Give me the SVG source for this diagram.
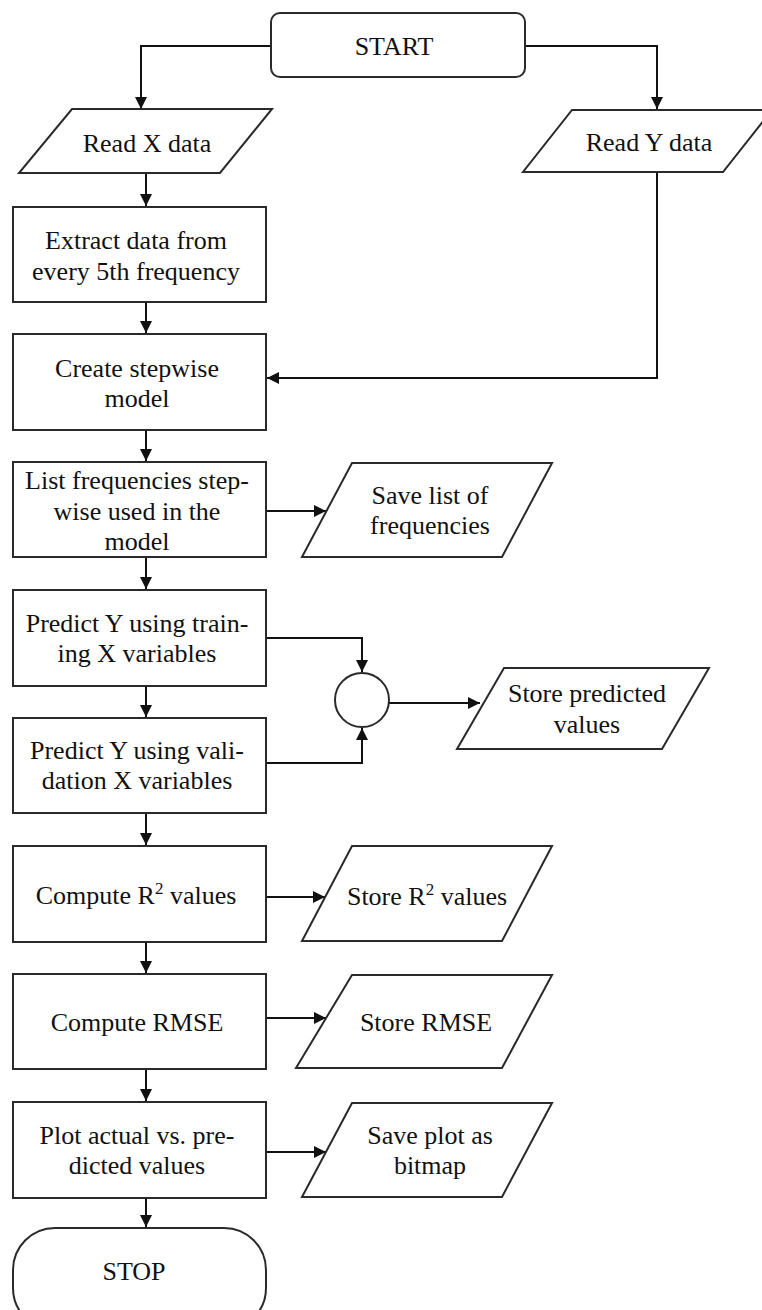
<svg xmlns="http://www.w3.org/2000/svg" width="762" height="1310" viewBox="0 0 762 1310">
<style>
.s{fill:#fff;stroke:#2a2a2a;stroke-width:2}
.c{fill:none;stroke:#111;stroke-width:2}
text{font-family:'Liberation Serif','DejaVu Serif',serif;font-size:26px;fill:#111;text-anchor:middle}
</style>
<defs>
<marker id="ah" viewBox="0 0 12 12" refX="12" refY="6" markerWidth="12" markerHeight="12" markerUnits="userSpaceOnUse" orient="auto">
<path d="M0,0 L12,6 L0,12 z" fill="#111"/>
</marker>
</defs>
<rect width="762" height="1310" fill="#fff"/>
<g id="connectors">
<path class="c" d="M271,46 H141 V109" marker-end="url(#ah)"/>
<path class="c" d="M525,46 H657 V109" marker-end="url(#ah)"/>
<path class="c" d="M146,173 V206" marker-end="url(#ah)"/>
<path class="c" d="M146,302 V333" marker-end="url(#ah)"/>
<path class="c" d="M146,430 V461" marker-end="url(#ah)"/>
<path class="c" d="M146,557 V589" marker-end="url(#ah)"/>
<path class="c" d="M146,686 V717" marker-end="url(#ah)"/>
<path class="c" d="M146,813 V845" marker-end="url(#ah)"/>
<path class="c" d="M146,942 V973" marker-end="url(#ah)"/>
<path class="c" d="M146,1069 V1101" marker-end="url(#ah)"/>
<path class="c" d="M146,1198 V1227" marker-end="url(#ah)"/>
<path class="c" d="M657,172 V378 H267" marker-end="url(#ah)"/>
<path class="c" d="M266,511 H326" marker-end="url(#ah)"/>
<path class="c" d="M266,638 H362 V672" marker-end="url(#ah)"/>
<path class="c" d="M266,763 H362 V728" marker-end="url(#ah)"/>
<path class="c" d="M389,703 H480" marker-end="url(#ah)"/>
<path class="c" d="M266,897 H325" marker-end="url(#ah)"/>
<path class="c" d="M266,1018 H326" marker-end="url(#ah)"/>
<path class="c" d="M266,1152 H326" marker-end="url(#ah)"/>
</g>
<g id="start"><rect class="s" x="271" y="13" width="254" height="64" rx="9"/><text x="394" y="55">START</text></g>
<g id="readx"><polygon class="s" points="72,109 272,109 220,173 19,173"/><text x="147" y="152">Read X data</text></g>
<g id="ready"><polygon class="s" points="572,110 772,110 723,172 523,172"/><text x="649" y="151">Read Y data</text></g>
<g id="extract"><rect class="s" x="13" y="207" width="253" height="95"/><text x="136" y="249">Extract data from</text><text x="136" y="280">every 5th frequency</text></g>
<g id="create"><rect class="s" x="13" y="334" width="253" height="96"/><text x="137" y="377">Create stepwise</text><text x="137" y="407">model</text></g>
<g id="list"><rect class="s" x="13" y="462" width="253" height="95"/><text x="137" y="489">List frequencies step-</text><text x="137" y="520">wise used in the</text><text x="137" y="550">model</text></g>
<g id="savelist"><polygon class="s" points="352,463 552,463 502,557 302,557"/><text x="430" y="504">Save list of</text><text x="430" y="534">frequencies</text></g>
<g id="predtrain"><rect class="s" x="13" y="590" width="253" height="96"/><text x="137" y="632">Predict Y using train-</text><text x="137" y="662">ing X variables</text></g>
<g id="predval"><rect class="s" x="13" y="718" width="253" height="95"/><text x="137" y="759">Predict Y using vali-</text><text x="137" y="789">dation X variables</text></g>
<g id="merge"><circle class="s" cx="362" cy="700" r="27"/></g>
<g id="storepred"><polygon class="s" points="504,668 709,668 662,749 457,749"/><text x="587" y="702">Store predicted</text><text x="587" y="733">values</text></g>
<g id="computer2"><rect class="s" x="13" y="846" width="253" height="96"/><text x="136" y="904">Compute R<tspan font-size="17" dy="-10">2</tspan><tspan dy="10"> values</tspan></text></g>
<g id="storer2"><polygon class="s" points="352,846 552,846 502,941 302,941"/><text x="427" y="905">Store R<tspan font-size="17" dy="-10">2</tspan><tspan dy="10"> values</tspan></text></g>
<g id="computermse"><rect class="s" x="13" y="974" width="253" height="95"/><text x="137" y="1031">Compute RMSE</text></g>
<g id="storermse"><polygon class="s" points="352,975 552,975 502,1068 296,1068"/><text x="426" y="1031">Store RMSE</text></g>
<g id="plot"><rect class="s" x="13" y="1102" width="253" height="96"/><text x="137" y="1144">Plot actual vs. pre-</text><text x="137" y="1174">dicted values</text></g>
<g id="saveplot"><polygon class="s" points="352,1103 552,1103 502,1197 302,1197"/><text x="430" y="1144">Save plot as</text><text x="430" y="1174">bitmap</text></g>
<g id="stop"><rect class="s" x="13" y="1228" width="253" height="102" rx="42" ry="42"/><text x="134" y="1280">STOP</text></g>
</svg>
